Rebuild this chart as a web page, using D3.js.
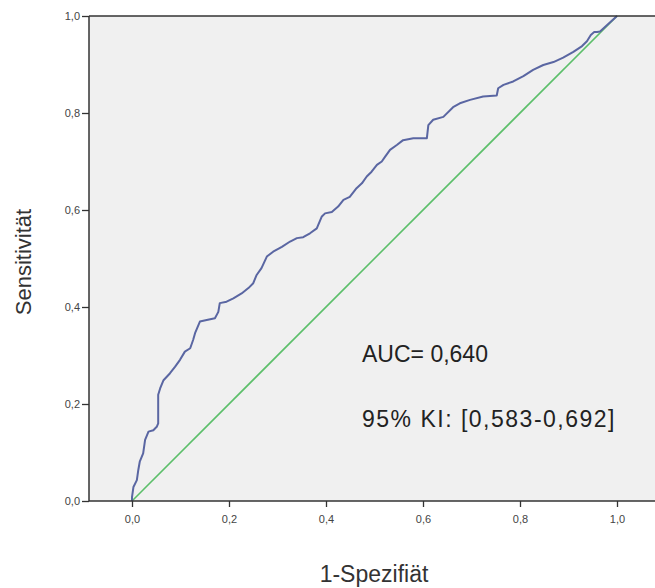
<!DOCTYPE html>
<html><head><meta charset="utf-8">
<script src="https://cdn.jsdelivr.net/npm/d3@7/dist/d3.min.js"></script>
<style>body{margin:0;background:#fff}svg{display:block}</style>
</head><body>
<svg id="c" width="655" height="588"></svg>
<script>
// ROC curve points: 1-specificity (fpr) and sensitivity (tpr)
const fpr = [0,0,0.003,0.010,0.013,0.016,0.023,0.027,0.034,0.044,0.051,0.054,0.054,0.058,0.065,0.078,0.089,0.099,0.109,0.120,0.126,0.130,0.140,0.154,0.171,0.178,0.181,0.195,0.209,0.226,0.240,0.250,0.257,0.267,0.278,0.291,0.309,0.326,0.340,0.353,0.367,0.381,0.391,0.398,0.412,0.425,0.436,0.449,0.463,0.474,0.484,0.494,0.505,0.515,0.522,0.532,0.546,0.559,0.580,0.608,0.611,0.621,0.642,0.662,0.676,0.697,0.724,0.752,0.755,0.766,0.786,0.807,0.827,0.848,0.869,0.889,0.910,0.928,0.938,0.946,0.953,0.959,0.965,1];
const tpr = [0,0.008,0.029,0.043,0.064,0.081,0.098,0.126,0.143,0.146,0.153,0.160,0.219,0.232,0.249,0.263,0.277,0.291,0.308,0.315,0.332,0.346,0.370,0.373,0.377,0.390,0.408,0.411,0.418,0.428,0.439,0.449,0.466,0.480,0.504,0.514,0.524,0.535,0.542,0.544,0.552,0.562,0.586,0.593,0.596,0.607,0.621,0.627,0.645,0.655,0.669,0.679,0.693,0.700,0.710,0.724,0.734,0.744,0.748,0.748,0.775,0.786,0.792,0.812,0.820,0.827,0.834,0.836,0.851,0.858,0.865,0.876,0.889,0.899,0.905,0.914,0.926,0.938,0.948,0.961,0.967,0.967,0.968,1];
const refFpr = [0,1];
const refTpr = [0,1];
const xTicks = [0,0.2,0.4,0.6,0.8,1.0];
const yTicks = [0,0.2,0.4,0.6,0.8,1.0];
const xTickLabels = ["0,0","0,2","0,4","0,6","0,8","1,0"];
const yTickLabels = ["0,0","0,2","0,4","0,6","0,8","1,0"];
const xTitle = "1-Spezifiät";
const yTitle = "Sensitivität";
const annotations = ["AUC= 0,640","95% KI: [0,583-0,692]"];

const svg = d3.select("#c");
const font = "'Liberation Sans', Arial, sans-serif";
const x = d3.scaleLinear().domain([0,1]).range([132,617]);
const y = d3.scaleLinear().domain([0,1]).range([501,16]);
const pL = 89, pR = 655, pT = 16, pB = 501;

svg.append("rect").attr("x",pL).attr("y",pT).attr("width",pR-pL).attr("height",pB-pT).attr("fill","#f0f0f0");

// diagonal reference
const line = d3.line().x(d=>x(d[0])).y(d=>y(d[1]));
svg.append("path").datum(refFpr.map((v,i)=>[v,refTpr[i]])).attr("d",line)
  .attr("fill","none").attr("stroke","#5cbf6a").attr("stroke-width",1.6);
// ROC curve
svg.append("path").datum(fpr.map((v,i)=>[v,tpr[i]])).attr("d",line)
  .attr("fill","none").attr("stroke","#5a66a2").attr("stroke-width",2).attr("stroke-linejoin","round");

// axes
const xa = svg.append("g").attr("transform",`translate(0,${pB})`)
  .call(d3.axisBottom(x).tickValues(xTicks).tickSize(6).tickPadding(8).tickFormat((d,i)=>xTickLabels[i]));
const ya = svg.append("g").attr("transform",`translate(${pL},0)`)
  .call(d3.axisLeft(y).tickValues(yTicks).tickSize(7).tickPadding(2).tickFormat((d,i)=>yTickLabels[i]));
[xa,ya].forEach(g=>{
  g.select(".domain").remove();
  g.selectAll(".tick line").attr("stroke","#333").attr("stroke-width",1.3);
  g.selectAll(".tick text").attr("fill","#444").style("font-family",font).style("font-size","11px");
});
svg.append("line").attr("x1",pL).attr("x2",pR).attr("y1",pB).attr("y2",pB).attr("stroke","#333").attr("stroke-width",1.5);
svg.append("line").attr("x1",pL).attr("x2",pL).attr("y1",pT).attr("y2",pB).attr("stroke","#333").attr("stroke-width",1.5);
svg.append("line").attr("x1",pL).attr("x2",pR).attr("y1",pT).attr("y2",pT).attr("stroke","#333").attr("stroke-width",1.3);

// titles
svg.append("text").attr("x",374).attr("y",582).attr("text-anchor","middle")
  .style("font-family",font).style("font-size","23px").attr("fill","#333").text(xTitle);
svg.append("text").attr("transform","translate(31,262) rotate(-90)").attr("text-anchor","middle")
  .style("font-family",font).style("font-size","22px").attr("fill","#333").text(yTitle);

// annotations
svg.append("text").attr("x",362).attr("y",362).style("font-family",font).style("font-size","23px").attr("fill","#222").text(annotations[0]);
svg.append("text").attr("x",362).attr("y",427).style("font-family",font).style("font-size","23px").style("letter-spacing","1.5px").attr("fill","#222").text(annotations[1]);
</script>
</body></html>
